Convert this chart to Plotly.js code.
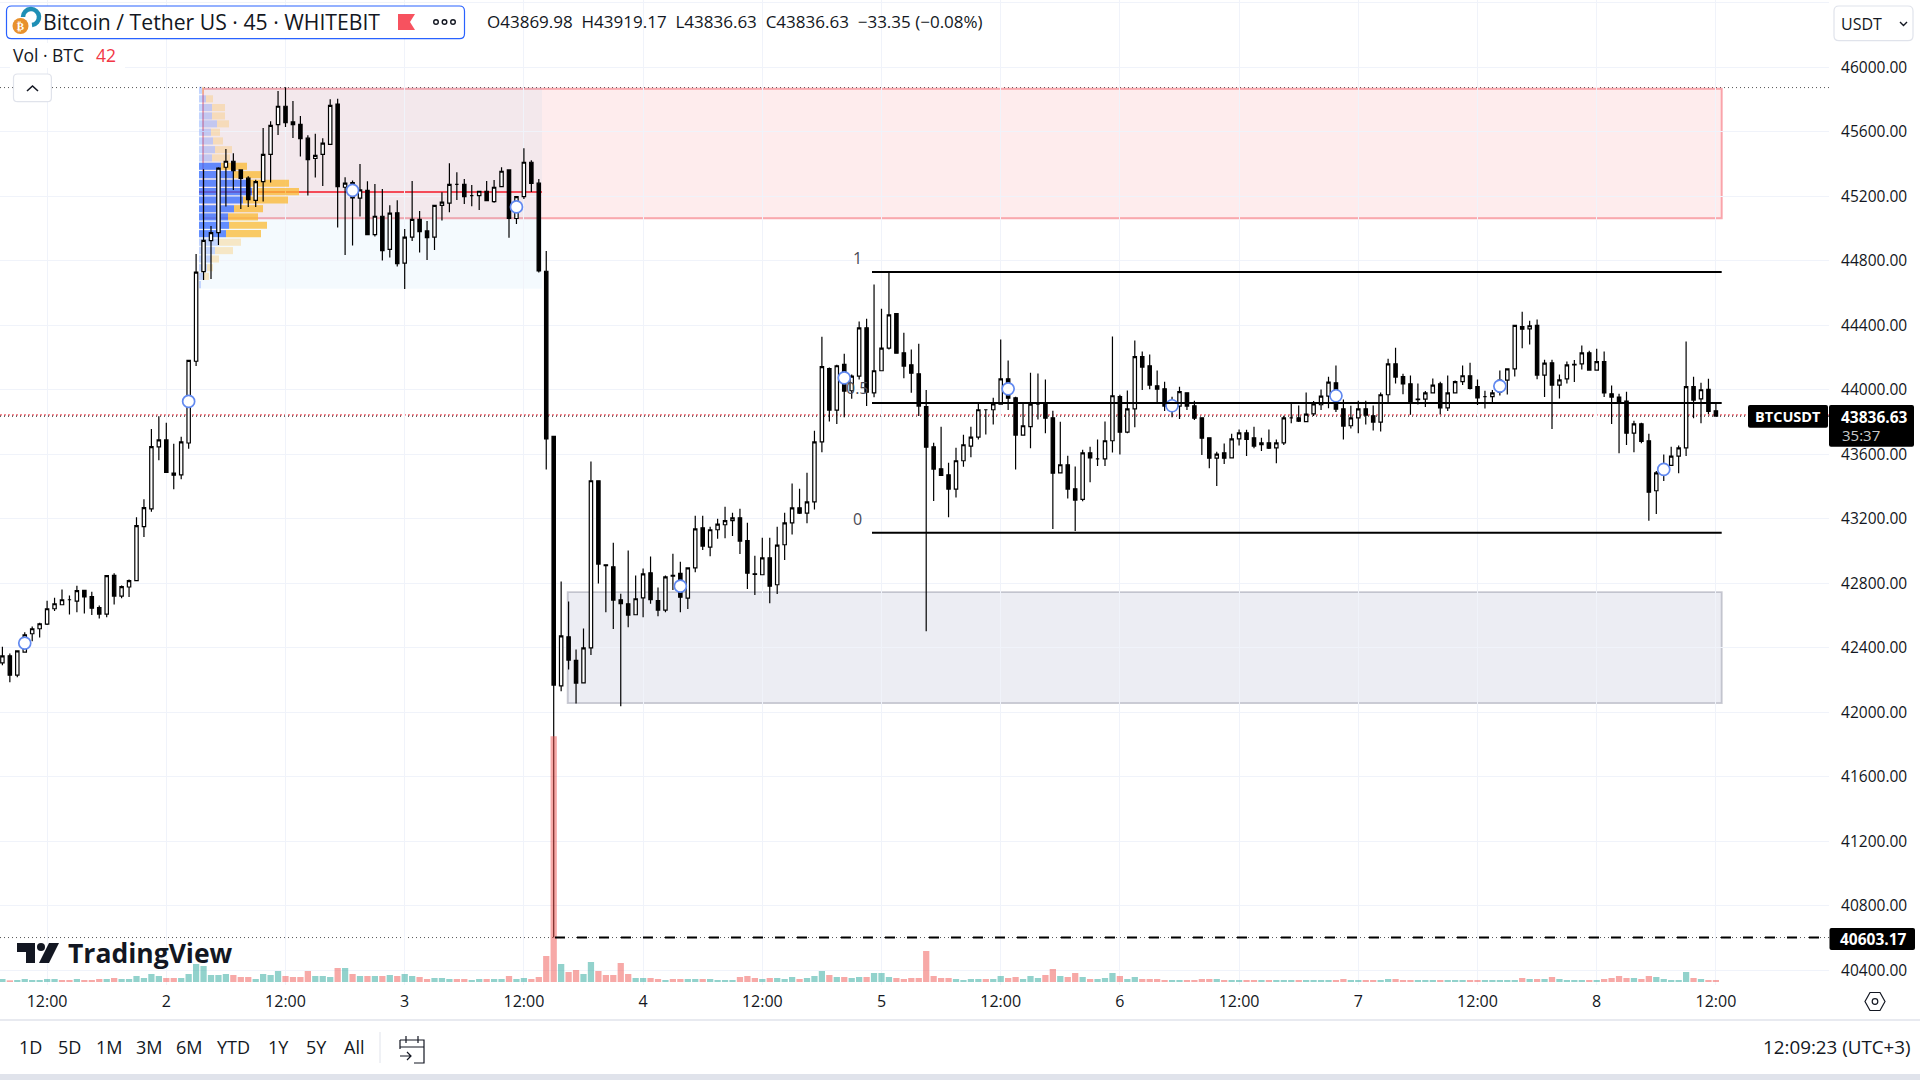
<!DOCTYPE html>
<html><head><meta charset="utf-8">
<script src="https://cdn.plot.ly/plotly-3.0.1.min.js"></script>
<style>html,body{margin:0;padding:0;background:#fff;overflow:hidden}#c{position:absolute;left:0;top:0;width:1920px;height:1080px}#o{position:absolute;left:0;top:0;pointer-events:none}</style>
</head><body><div id="c"></div>
<svg id="o" width="1920" height="1080" viewBox="0 0 1920 1080">
<circle cx="20.5" cy="26" r="8" fill="#e8912d"/><text x="20.5" y="30" font-size="11" font-weight="700" text-anchor="middle" fill="#fff" font-family="DejaVu Sans">₿</text>
<path d="M23 17a8 8 0 1 1 9 8" fill="none" stroke="#1f8fb5" stroke-width="4.5"/>
<path d="M398 14h17l-5 8 5 8h-17z" fill="#f7525f"/>
<g fill="none" stroke="#131722" stroke-width="1.4"><circle cx="436" cy="22" r="2.3"/><circle cx="444.5" cy="22" r="2.3"/><circle cx="453" cy="22" r="2.3"/></g>
<path d="M27 91l5.5-5 5.5 5" fill="none" stroke="#131722" stroke-width="1.6"/>
<path d="M1900 22l3.5 3.5 3.5-3.5" fill="none" stroke="#131722" stroke-width="1.4"/>
<path d="M17 943h18v20h-9v-11h-9z M49 943h10l-10 20h-10z" fill="#131722"/><circle cx="41" cy="947" r="4" fill="#131722"/>
<g fill="none" stroke="#131722" stroke-width="1.2"><path d="M400 1040h24v23h-10M400 1047h24M400 1040v9M406 1036v7M418 1036v7"/><path d="M400 1056h11M407 1052l4 4-4 4"/></g>
<g fill="none" stroke="#131722" stroke-width="1.2"><path d="M1870 992.5h10l5 9-5 9h-10l-5-9z"/><circle cx="1875" cy="1001.5" r="2.8"/></g>
</svg>
<script>
const open=[42307,42350,42230,42373,42487,42518,42547,42642,42667,42698,
42690,42756,42717,42650,42609,42849,42721,42777,42816,43151,
43261,43646,43689,43484,43472,43670,44177,44733,44925,44975,
45380,45417,45363,45312,45175,45291,45460,45644,45758,45661,
45646,45560,45434,45460,45522,45772,45256,45285,45188,45237,
44962,45076,44871,45097,44785,44946,45057,44985,44946,45144,
45157,45274,45274,45204,45204,45231,45167,45260,45363,45062,
45198,45411,45281,44735,43711,42164,42468,42322,42183,42400,
43436,42915,42902,42698,42673,42605,42710,42865,42692,42634,
42849,42861,42708,42896,43144,43024,43132,43163,43188,43206,
43064,42859,42853,42958,42791,43039,43175,43268,43235,43305,
43677,44132,43874,44157,43994,44085,44384,43981,44118,44258,
44473,44229,44155,44099,43895,43646,43510,43473,43384,43560,
43651,43706,43876,43876,43911,44068,43950,43719,43771,43911,
43915,43826,43485,43535,43386,43320,43609,43572,43572,43684,
43957,43737,43882,44205,44149,44025,44006,43882,43899,43981,
43901,43826,43702,43576,43609,43578,43696,43733,43702,43659,
43671,43640,43671,43826,43826,43802,43851,43907,43961,44043,
43882,43777,43826,43882,43839,43800,43969,44161,44081,44037,
43942,43942,43981,44037,43888,43981,44050,44087,44019,43957,
43957,43986,44060,44130,44391,44378,44399,44091,44167,44029,
44068,44157,44161,44229,44122,44174,43975,43955,43930,43731,
43789,43684,43374,43473,43531,43589,43640,44019,43944,44002,43869.98];
const high=[42406,42365,42381,42497,42532,42555,42692,42710,42762,42725,
42785,42756,42748,42663,42847,42862,42787,42824,43209,43321,
43756,43836,43796,43665,43708,44182,44842,45367,45016,45380,
45493,45467,45363,45324,45303,45624,45665,45853,45876,45791,
45698,45578,45587,45560,45801,45804,45318,45297,45400,45293,
45276,45245,45144,45175,44997,45295,45109,45047,45144,45225,
45405,45349,45307,45270,45231,45295,45301,45380,45367,45198,
45498,45423,45307,44861,43715,42811,42687,42390,42520,43556,
43436,42915,43051,42735,43004,42849,42892,42966,42774,42849,
42983,42933,42896,43219,43219,43150,43200,43274,43237,43262,
43175,42971,43082,43082,43150,43237,43419,43386,43485,43746,
44329,44138,44155,44223,44095,44424,44440,44653,44502,44730,
44473,44353,44250,44285,43999,43671,43770,43547,43640,43721,
43770,43919,43876,43950,44312,44182,43957,43915,44105,44101,
44064,43870,43802,43591,43525,43628,43647,43692,43804,44331,
43969,43996,44306,44238,44219,44120,44050,43957,44019,43981,
43932,43826,43702,43616,43667,43727,43754,43752,43771,43702,
43754,43692,43839,43919,43903,43983,43930,44002,44081,44151,
43940,43901,43932,43932,43903,43983,44192,44260,44099,44089,
44039,43992,44070,44050,44089,44058,44151,44167,44064,43994,
43998,44120,44134,44403,44484,44428,44436,44186,44186,44095,
44176,44184,44275,44242,44254,44238,44027,43975,43988,43808,
43795,43727,43496,43599,43647,43655,44300,44081,44043,44068,43919.17];
const low=[42292,42187,42218,42373,42441,42464,42541,42628,42667,42607,
42621,42613,42603,42582,42590,42669,42708,42715,42816,43087,
43243,43563,43488,43383,43445,43635,44148,44681,44687,44898,
45136,45239,45121,45134,45134,45167,45285,45580,45630,45562,
45446,45204,45316,45264,45522,45006,44836,44894,45074,44962,
44950,44801,44820,44764,44625,44923,44851,44805,44867,45049,
45101,45177,45152,45138,45115,45173,45159,45256,44942,45028,
45183,45227,44727,43505,40603.17,42131,42266,42055,42183,42355,
42799,42621,42516,42038,42528,42605,42590,42673,42596,42621,
42758,42621,42640,42869,43006,42968,43076,43080,43093,42981,
42764,42727,42853,42677,42733,42944,43103,43229,43173,43258,
43613,43804,43787,43830,43944,44064,43899,43954,44118,44250,
44227,44072,43981,43837,42503,43310,43465,43210,43332,43522,
43582,43692,43723,43785,43911,43874,43506,43719,43638,43816,
43731,43136,43485,43326,43124,43308,43427,43527,43527,43611,
43599,43731,43768,43998,44004,43924,43868,43830,43818,43874,
43812,43595,43514,43403,43539,43578,43655,43589,43638,43620,
43632,43545,43657,43793,43800,43802,43837,43874,43886,43862,
43692,43760,43731,43785,43748,43742,43924,44039,43973,43845,
43909,43893,43981,43847,43868,43981,44029,44002,43905,43884,
43919,43965,43971,44083,44258,44281,44066,43955,43756,43946,
44039,44048,44126,44122,44120,43955,43787,43607,43657,43613,
43669,43188,43229,43434,43527,43483,43589,43824,43793,43849,43836.63];
const close=[42350,42230,42381,42481,42518,42549,42642,42673,42698,42698,
42754,42715,42646,42609,42847,42721,42779,42816,43158,43269,
43648,43689,43488,43470,43677,44182,44729,44927,44975,45374,
45417,45359,45310,45179,45291,45460,45640,45758,45657,45644,
45558,45427,45454,45529,45764,45260,45281,45190,45239,44962,
45076,44863,45095,44782,44946,45057,44981,44944,45144,45163,
45274,45274,45198,45204,45231,45173,45256,45355,45062,45198,
45411,45279,44737,43696,42169,42474,42324,42181,42400,43436,
42919,42909,42696,42673,42603,42704,42859,42698,42634,42840,
42845,42714,42896,43138,43031,43132,43167,43188,43206,43062,
42863,42855,42958,42782,43037,43175,43268,43235,43305,43677,
44143,43874,44149,43992,44085,44384,43985,44118,44258,44465,
44227,44147,44103,43899,43644,43508,43469,43384,43560,43659,
43706,43876,43876,43913,44068,43948,43719,43777,43911,43911,
43824,43483,43535,43384,43316,43609,43578,43572,43684,43963,
43737,43882,44205,44141,44029,44004,43899,43930,43988,43899,
43824,43700,43576,43601,43576,43696,43733,43692,43651,43671,
43638,43671,43826,43826,43806,43849,43913,43961,44048,43880,
43775,43826,43882,43843,43800,43969,44161,44079,44037,43926,
43938,43981,44029,43888,43981,44050,44087,44008,43950,43957,
43981,44060,44130,44399,44376,44397,44091,44165,44029,44062,
44155,44155,44229,44122,44174,43981,43955,43924,43731,43789,
43680,43365,43485,43537,43589,43640,44019,43936,44000,43866,43836.63];
const volume=[63,35,42,63,42,42,63,63,42,42,
63,42,42,63,63,84,63,63,126,84,
168,126,84,84,84,168,378,336,147,147,
168,147,105,105,63,168,147,231,126,105,
105,231,126,126,105,294,294,168,126,126,
126,126,147,126,168,126,105,63,84,84,
63,63,63,42,63,63,63,63,126,63,
84,63,105,546,5159,378,210,252,168,420,
231,147,147,399,168,84,84,84,63,42,
63,63,63,63,63,63,42,42,42,105,
126,84,63,84,84,63,105,63,84,126,
231,147,105,105,84,105,105,189,189,105,
84,63,84,84,651,126,84,84,63,42,
63,63,63,63,126,84,105,63,126,84,
147,273,126,105,189,105,63,63,84,189,
126,63,105,63,63,63,42,42,42,42,
42,63,63,63,42,42,42,42,42,42,
42,42,42,42,42,42,42,42,42,42,
63,42,42,42,42,42,63,63,42,42,
42,42,42,42,42,42,42,42,42,42,
42,42,42,42,84,63,63,63,105,63,
42,42,42,42,42,63,84,126,84,84,
63,126,105,63,42,42,210,84,63,42,42];
const volumeUp=[1,0,1,1,1,1,1,1,0,0,
1,0,0,0,1,0,1,1,1,1,
1,1,0,0,1,1,1,1,1,1,
1,0,0,0,1,1,1,1,0,0,
0,0,1,1,1,0,1,0,1,0,
1,0,1,0,1,1,0,0,1,1,
1,0,0,1,1,0,1,1,0,1,
1,0,0,0,0,1,0,0,1,1,
0,0,0,0,0,1,1,0,0,1,
0,0,1,1,0,1,1,1,1,0,
0,0,1,0,1,1,1,0,1,1,
1,0,1,0,1,1,0,1,1,1,
0,0,0,0,0,0,0,0,1,1,
1,1,0,1,1,0,0,1,1,1,
0,0,1,0,0,1,0,1,1,1,
0,1,1,0,0,0,0,1,1,0,
0,0,0,1,0,1,1,0,0,1,
0,1,1,1,0,1,1,1,1,0,
0,1,1,0,0,1,1,0,0,0,
1,1,1,0,1,1,1,0,0,1,
1,1,1,1,0,1,0,1,0,1,
1,1,1,0,1,0,0,0,0,1,
0,0,1,1,1,1,1,0,1,0,0];
const markerIndex=[3,25,47,69,91,113,135,157,179,201,223];
const markerPrice=[42429,43928,45237,45134,42782,44074,44006,43901,43963,44023,43506];
const profilePrice=[45857,45804,45750,45698,45649,45597,45543,45489,45438,45386,45334,45281,45229,45177,45123,45072,45020,44968,44915,44863,44811,44757,44703,44652];
const profileUp=[3,7,13,13,18,12,14,16,13,22,34,48,53,44,35,29,30,27,20,16,12,8,4,2];
const profileDown=[2,7,13,13,12,9,10,17,18,26,28,42,47,45,29,30,38,35,22,18,8,6,6,0];
const tickIndex=[6,22,38,54,70,86,102,118,134,150,166,182,198,214,230];
const tickText=['12:00','2','12:00','3','12:00','4','12:00','5','12:00','6','12:00','7','12:00','8','12:00'];
const priceTicks=[46400,46000,45600,45200,44800,44400,44000,43600,43200,42800,42400,42000,41600,41200,40800,40400];
const priceText=['','46000.00','45600.00','45200.00','44800.00','44400.00','44000.00','43600.00','43200.00','42800.00','42400.00','42000.00','41600.00','41200.00','40800.00','40400.00'];
const redZone=[45867,45064], grayZone=[42745,42057], fibLevels=[44730,43918,43113], valueArea=[45874,44627];
const pocPrice=45227, lowPrice=40603.17, lastPrice=43836.63, redPrice=43844, highPrice=45874;
const rangeButtons=['1D','5D','1M','3M','6M','YTD','1Y','5Y','All'];
const rangeX=[30.6,69,109,149,189,234,278,316,354];

const FONT='"Open Sans", sans-serif', INK='#131722';
const PW=1829, PH=985;
const px=X=>X/PW, py=Y=>1-Y/PH;
const xi=X=>(X-2.4)/7.45;
const idx=open.map((_,i)=>i);
const profBase=xi(199), unit=1/7.45;
const va=profilePrice.map((_,i)=>i>=9&&i<=17);

const traces=[
 {type:'bar',orientation:'h',y:profilePrice,x:profileUp.map(v=>v*unit),base:profilePrice.map(()=>profBase),width:44,
  marker:{color:va.map(v=>v?'rgba(41,98,255,.72)':'rgba(41,98,255,.24)'),line:{width:0}},hoverinfo:'skip',showlegend:false},
 {type:'bar',orientation:'h',y:profilePrice,x:profileDown.map(v=>v*unit),base:profileUp.map(v=>profBase+v*unit),width:44,
  marker:{color:va.map(v=>v?'rgba(251,186,50,.75)':'rgba(251,192,80,.32)'),line:{width:0}},hoverinfo:'skip',showlegend:false},
 {type:'candlestick',x:idx,open:open,high:high,low:low,close:close,whiskerwidth:0,
  increasing:{line:{color:'#000',width:1.2},fillcolor:'#fff'},decreasing:{line:{color:'#000',width:1.2},fillcolor:'#000'},hoverinfo:'skip',showlegend:false},
 {type:'scatter',mode:'markers',x:markerIndex,y:markerPrice,marker:{size:12,color:'#fff',line:{color:'#6189f0',width:1.7}},hoverinfo:'skip',showlegend:false},
 {type:'bar',x:idx,y:volume,yaxis:'y2',width:0.84,marker:{color:volumeUp.map(u=>u?'rgba(38,166,154,.5)':'rgba(239,83,80,.5)'),line:{width:0}},hoverinfo:'skip',showlegend:false}
];

function rr(x0,y0,x1,y1,r){
 const a=px(x0),b=px(x1),c=py(y0),d=py(y1),rx=r/PW,ry=r/PH;
 return `M${a+rx},${c}L${b-rx},${c}Q${b},${c} ${b},${c-ry}L${b},${d+ry}Q${b},${d} ${b-rx},${d}L${a+rx},${d}Q${a},${d} ${a},${d+ry}L${a},${c-ry}Q${a},${c} ${a+rx},${c}Z`;
}
const box=(x0,y0,x1,y1,r,fill,line,w)=>({type:'path',xref:'paper',yref:'paper',path:rr(x0,y0,x1,y1,r),fillcolor:fill,line:{color:line||fill,width:w||0},layer:'above'});
const prect=(x0,y0,x1,y1,fill)=>({type:'rect',xref:'paper',yref:'paper',x0:px(x0),x1:px(x1),y0:py(y0),y1:py(y1),fillcolor:fill,line:{width:0},layer:'above'});
const pline=(x0,y0,x1,y1,c,w)=>({type:'line',xref:'paper',yref:'paper',x0:px(x0),x1:px(x1),y0:py(y0),y1:py(y1),line:{color:c,width:w},layer:'above'});
const hline=(p,c,w,d,layer)=>({type:'line',xref:'paper',yref:'y',x0:0,x1:1,y0:p,y1:p,line:{color:c,width:w,dash:d},layer:layer||'below'});
const xR=xi(1721.7);
const shapes=[
 {type:'rect',xref:'x',yref:'y',x0:xi(203),x1:xR,y0:redZone[0],y1:redZone[1],fillcolor:'rgba(242,54,69,.095)',line:{color:'rgba(242,54,69,.42)',width:2},layer:'below'},
 {type:'rect',xref:'x',yref:'y',x0:xi(199),x1:xi(542),y0:valueArea[0],y1:valueArea[1],fillcolor:'rgba(33,150,243,.052)',line:{width:0},layer:'below'},
 {type:'rect',xref:'x',yref:'y',x0:xi(567.7),x1:xR,y0:grayZone[0],y1:grayZone[1],fillcolor:'rgba(110,118,160,.13)',line:{color:'rgba(110,115,135,.36)',width:1.9},layer:'below'},
 {type:'line',xref:'x',yref:'y',x0:xi(199),x1:xi(542),y0:pocPrice,y1:pocPrice,line:{color:'#f44b58',width:2},layer:'below'},
 hline(highPrice,'#555',1,'1px,3px'),
 hline(lowPrice,'#555',1,'1px,3px'),
 hline(redPrice,'#f23645',1,'2px,2px'),
 hline(lastPrice,'#000',1,'1px,3px'),
 ...fibLevels.map(l=>({type:'line',xref:'x',yref:'y',x0:xi(872),x1:xR,y0:l,y1:l,line:{color:'#000',width:2},layer:'above'})),
 {type:'line',xref:'x',yref:'y',x0:xi(555),x1:xi(1826),y0:lowPrice,y1:lowPrice,line:{color:'#000',width:2,dash:'10px,12px'},layer:'above'},
 prect(10,43,125,68,'#fff'),
 box(6.5,6,464.5,38.7,5,'#fff','#2962ff',1.2),
 box(13.5,74,51.4,101.7,4,'#fff','#e0e3eb',1.2),
 box(1834,6,1913,40.7,5,'#fff','#e0e3eb',1.2),
 box(1748,405,1828,427.7,2,'#000'),
 box(1829,405,1914,446.7,2,'#000'),
 box(1829.5,928,1915,950,2,'#000'),
 pline(0,1020,1920,1020,'#e0e3eb',1.5),
 pline(380,1032,380,1063,'#e0e3eb',1),
 prect(0,1074,1920,1080,'#e0e3eb')
];
const A=(t,X,Y,s,c,an,bold)=>({text:bold?`<b>${t}</b>`:t,xref:'paper',yref:'paper',x:px(X),y:py(Y),xanchor:an||'left',yanchor:'middle',showarrow:false,borderpad:0,font:{family:FONT,size:s,color:c||INK}});
const annotations=[
 A('Bitcoin / Tether US · 45 · WHITEBIT',42,22,21.2),
 A('O43869.98  H43919.17  L43836.63  C43836.63  −33.35 (−0.08%)',486,22,17),
 A('Vol · BTC',12,55,17.5),
 A('42',95,55,17.5,'#f23645'),
 A('USDT',1840,24,16),
 A('1',857,258,16,'#4a4a55','center'),
 A('0.5',857,388,16,'#4a4a55','center'),
 A('0',857,519,16,'#4a4a55','center'),
 A('BTCUSDT',1788,416,14.5,'#fff','center',true),
 A('43836.63',1874,417,15.5,'#fff','center',true),
 A('35:37',1841,435,15,'#c8c8c8'),
 A('40603.17',1873,939,15.5,'#fff','center',true),
 A('TradingView',67,953,26.5,INK,'left',true),
 A('12:09:23 (UTC+3)',1912,1046.5,18.8,INK,'right'),
 ...rangeButtons.map((b,i)=>A(b,rangeX[i],1047,18,INK,'center'))
];
const layout={
 width:1920,height:1080,margin:{l:0,r:91,t:0,b:95,pad:0,autoexpand:false},
 paper_bgcolor:'#fff',plot_bgcolor:'#fff',showlegend:false,barmode:'overlay',boxgap:0.35,
 font:{family:FONT,color:INK},
 xaxis:{type:'linear',range:[xi(0),xi(1829)],tickmode:'array',tickvals:tickIndex,ticktext:tickText,showgrid:true,gridcolor:'#f0f3fa',gridwidth:1,
  zeroline:false,showline:false,ticks:'outside',ticklen:2,tickcolor:'rgba(0,0,0,0)',tickfont:{family:FONT,size:16,color:INK},rangeslider:{visible:false},tickangle:0,fixedrange:true},
 yaxis:{type:'linear',side:'right',range:[40309,46417],tickmode:'array',tickvals:priceTicks,ticktext:priceText,showgrid:true,gridcolor:'#f0f3fa',gridwidth:1,
  zeroline:false,showline:false,ticks:'outside',ticklen:8,tickcolor:'rgba(0,0,0,0)',tickfont:{family:FONT,size:15.5,color:INK},fixedrange:true},
 yaxis2:{overlaying:'y',side:'left',range:[-63,20622],showgrid:false,zeroline:false,showline:false,showticklabels:false,ticks:'',fixedrange:true},
 shapes:shapes,annotations:annotations
};
Plotly.newPlot('c',traces,layout,{displayModeBar:false,staticPlot:true});
</script>
</body></html>
